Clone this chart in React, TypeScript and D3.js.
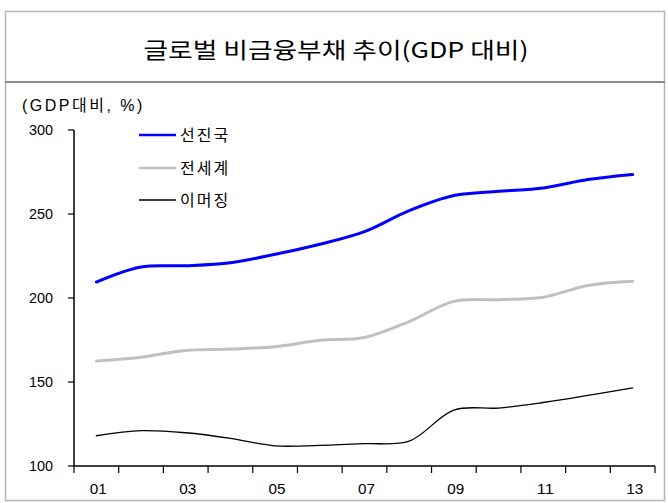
import React from "react";
import * as d3 from "d3";

const years = ["01", "02", "03", "04", "05", "06", "07", "08", "09", "10", "11", "12", "13"];
const xTickLabels = ["01", "03", "05", "07", "09", "11", "13"];
const yTicks = [100, 150, 200, 250, 300];

const advanced = [209.5, 218.5, 219.2, 221, 226, 232, 239.5, 252, 261, 263.5, 265.5, 270.5, 273.5];
const world = [162.5, 164.7, 168.8, 169.6, 171, 174.8, 176.5, 186, 198, 199, 200.5, 207.5, 210];
const emerging = [118, 121, 119.8, 116.5, 112, 112.3, 113.3, 114.8, 133.3, 134.5, 137.8, 142, 146.5];

const seriesNames = ["선진국", "전세계", "이머징"];
const seriesColors = ["#0000ff", "#c0c0c0", "#000000"];
const seriesWidths = [3, 3, 1.3];

const title = "글로벌 비금융부채 추이(GDP 대비)";
const unitLabel = "(GDP대비, %)";

export default function App() {
  const W = 668, H = 503;
  const left = 74, right = 655, top = 130, bottom = 466;
  const x = d3.scaleBand<string>().domain(years).range([left, right]);
  const y = d3.scaleLinear().domain([100, 300]).range([bottom, top]);
  const cx = (i: number) => (x(years[i]) as number) + x.bandwidth() / 2;
  const line = d3
    .line<number>()
    .x((_, i) => cx(i))
    .y((d) => y(d))
    .curve(d3.curveCatmullRom.alpha(0.5));
  const allSeries = [advanced, world, emerging];
  const font = "'Liberation Sans', Arial, 'Noto Sans CJK KR', sans-serif";
  const kfont = "'Noto Sans CJK KR', 'Liberation Sans', sans-serif";
  const tickPositions = years.map((yr) => x(yr) as number).concat([right]);
  const legendY = [135, 168, 200];

  return (
    <svg width={W} height={H} style={{ position: "absolute", left: 0, top: 0 }} fontFamily={font}>
      <rect x={5.5} y={11.5} width={659} height={489} fill="#fff" stroke="#b4b4b4" strokeWidth={1.5} />
      <line x1={5} x2={665} y1={82} y2={82} stroke="#8c8c8c" strokeWidth={2} />
      <text x={336} y={58} textAnchor="middle" fontSize={22} fontFamily={kfont} fill="#000" textLength={385} lengthAdjust="spacingAndGlyphs">
        {title}
      </text>
      <text x={22} y={111} fontSize={16} fontFamily={font} fill="#000" letterSpacing={2.5}>
        {unitLabel}
      </text>

      {/* y axis */}
      <line x1={left} x2={left} y1={top} y2={bottom} stroke="#000" strokeWidth={1.5} />
      {yTicks.map((t) => (
        <g key={t}>
          <line x1={left - 6} x2={left} y1={y(t)} y2={y(t)} stroke="#000" strokeWidth={1.2} />
          <text x={53} y={y(t) + 5} textAnchor="end" fontSize={15} fill="#000" textLength={24} lengthAdjust="spacingAndGlyphs">
            {t}
          </text>
        </g>
      ))}

      {/* x axis */}
      <line x1={left} x2={right} y1={bottom} y2={bottom} stroke="#000" strokeWidth={1.5} />
      {tickPositions.map((p, i) => (
        <line key={i} x1={p} x2={p} y1={bottom} y2={bottom + 7} stroke="#000" strokeWidth={1.2} />
      ))}
      {xTickLabels.map((lab) => (
        <text key={lab} x={(x(lab) as number) + x.bandwidth() / 2 + 2} y={494} textAnchor="middle" fontSize={15} fill="#000" textLength={17} lengthAdjust="spacingAndGlyphs">
          {lab}
        </text>
      ))}

      {/* series */}
      {allSeries.map((s, i) => (
        <path key={i} d={line(s) || ""} fill="none" stroke={seriesColors[i]} strokeWidth={seriesWidths[i]} strokeLinejoin="round" strokeLinecap="round" />
      ))}

      {/* legend */}
      {seriesNames.map((n, i) => (
        <g key={n}>
          <line x1={139} x2={176} y1={legendY[i]} y2={legendY[i]} stroke={seriesColors[i]} strokeWidth={seriesWidths[i] === 3 ? 2.5 : 1.3} />
          <text x={180} y={legendY[i] + 6} fontSize={16} fontFamily={kfont} fill="#000" letterSpacing={2}>
            {n}
          </text>
        </g>
      ))}
    </svg>
  );
}
